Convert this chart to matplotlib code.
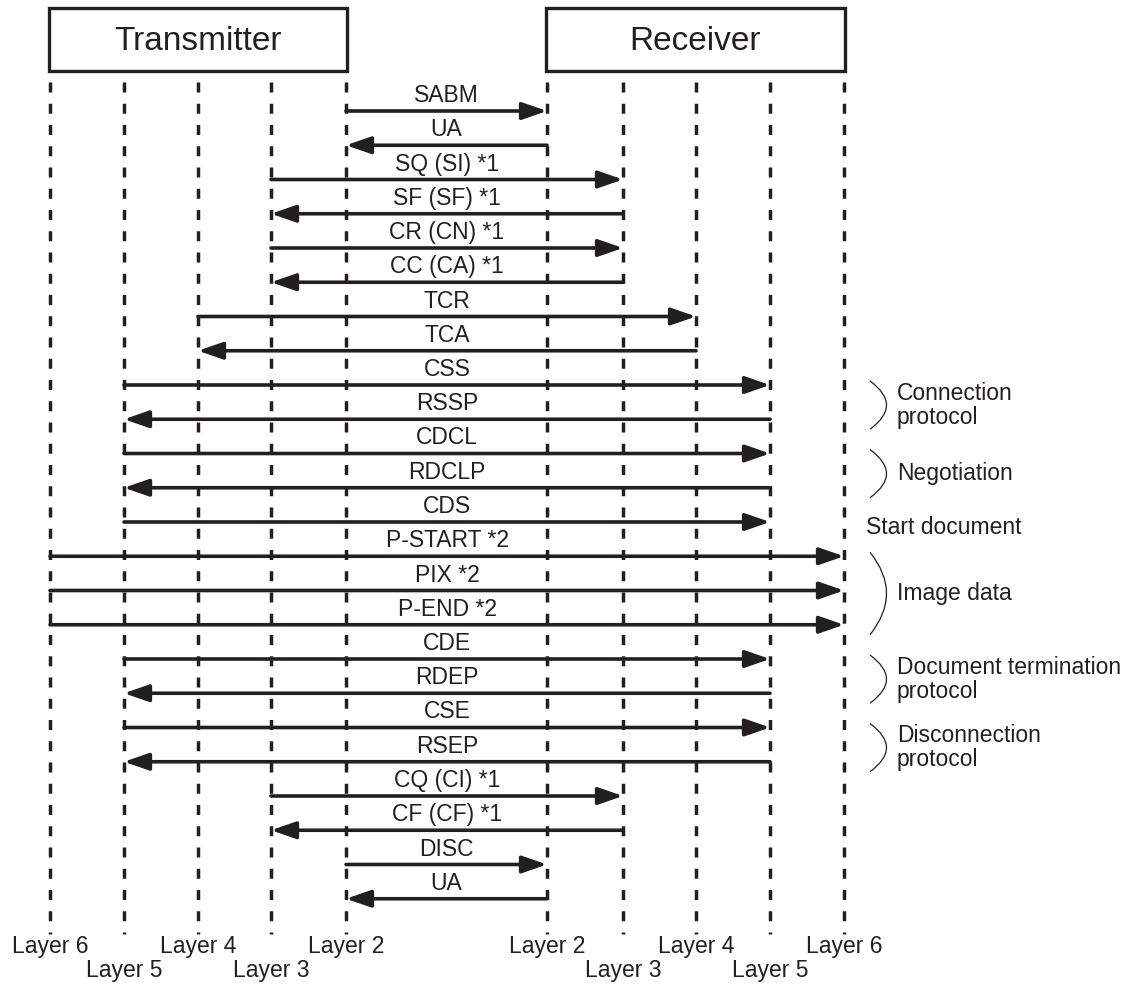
import matplotlib.pyplot as plt
from matplotlib.patches import Rectangle, PathPatch
from matplotlib.path import Path

plt.rcParams['font.family'] = ['Liberation Sans', 'DejaVu Sans']
plt.rcParams['lines.scale_dashes'] = False

INK = '#231f20'

# lanes: transmitter side (layer 6 .. 2) then receiver side (layer 2 .. 6)
lane_names = ['Layer 6', 'Layer 5', 'Layer 4', 'Layer 3', 'Layer 2',
              'Layer 2', 'Layer 3', 'Layer 4', 'Layer 5', 'Layer 6']
lane_x = [50, 124, 198, 271, 346, 547, 623, 696, 770, 844]
lane_label_row = [0, 1, 0, 1, 0, 0, 1, 0, 1, 0]

# messages: label, from lane index, to lane index
msg_labels = ['SABM', 'UA', 'SQ (SI) *1', 'SF (SF) *1', 'CR (CN) *1', 'CC (CA) *1',
              'TCR', 'TCA', 'CSS', 'RSSP', 'CDCL', 'RDCLP', 'CDS',
              'P-START *2', 'PIX *2', 'P-END *2', 'CDE', 'RDEP', 'CSE', 'RSEP',
              'CQ (CI) *1', 'CF (CF) *1', 'DISC', 'UA']
msg_from = [4, 5, 3, 6, 3, 6, 2, 7, 1, 8, 1, 8, 1, 0, 0, 0, 1, 8, 1, 8, 3, 6, 4, 5]
msg_to = [5, 4, 6, 3, 6, 3, 7, 2, 8, 1, 8, 1, 8, 9, 9, 9, 8, 1, 8, 1, 6, 3, 5, 4]

# phase annotations: text, first row, last row, with brace
phase_text = ['Connection\nprotocol', 'Negotiation', 'Start document', 'Image data',
              'Document termination\nprotocol', 'Disconnection\nprotocol']
phase_first = [8, 10, 12, 13, 16, 18]
phase_last = [9, 11, 12, 15, 17, 19]
phase_brace = [True, True, False, True, True, True]

fig = plt.figure(figsize=(11.41, 9.92), dpi=100)
ax = fig.add_axes([0, 0, 1, 1])
ax.set_xlim(0, 1141)
ax.set_ylim(992, 0)
ax.axis('off')

row0, row_step = 111, 34.25
row_y = [row0 + i * row_step for i in range(len(msg_labels))]

# boxes
for name, a, b in [('Transmitter', 0, 4), ('Receiver', 5, 9)]:
    x0, x1 = lane_x[a] - 1, lane_x[b] + 1
    ax.add_patch(Rectangle((x0, 8), x1 - x0, 63, fill=False, lw=2.4, ec=INK))
    ax.text((x0 + x1) / 2, 41, name, fontsize=24, ha='center', va='center', color=INK)

# dashed lifelines
for x in lane_x:
    ax.plot([x, x], [82, 934], color=INK, lw=2.5, dashes=(7.2, 8.1), solid_capstyle='butt')

# bottom labels
for name, x, r in zip(lane_names, lane_x, lane_label_row):
    ax.text(x, 946 + 24 * r, name, fontsize=16.5, ha='center', va='center', color=INK)

# messages
for lab, f, t, y in zip(msg_labels, msg_from, msg_to, row_y):
    xf, xt = lane_x[f], lane_x[t]
    ax.annotate('', xy=(xt, y), xytext=(xf, y),
                arrowprops=dict(arrowstyle='-|>,head_length=0.75,head_width=0.26',
                                mutation_scale=20, lw=2.6, color=INK,
                                shrinkA=0, shrinkB=0))
    ax.text((xf + xt) / 2, y - 9, lab, fontsize=16.5, ha='center', va='baseline', color=INK)

# phase braces and text
for txt, a, b, br in zip(phase_text, phase_first, phase_last, phase_brace):
    if br:
        top, bot = row_y[a] - 4, row_y[b] + 10
        mid = (top + bot) / 2
        p = Path([(870, top), (903, mid), (870, bot)],
                 [Path.MOVETO, Path.CURVE3, Path.CURVE3])
        ax.add_patch(PathPatch(p, fill=False, lw=0.9, ec=INK))
        ax.text(897, mid, txt, fontsize=16.5, ha='left', va='center',
                linespacing=1.05, color=INK)
    else:
        ax.text(866, row_y[a] + 5, txt, fontsize=16.5, ha='left', va='center', color=INK)

fig.savefig('out.png', dpi=100)
